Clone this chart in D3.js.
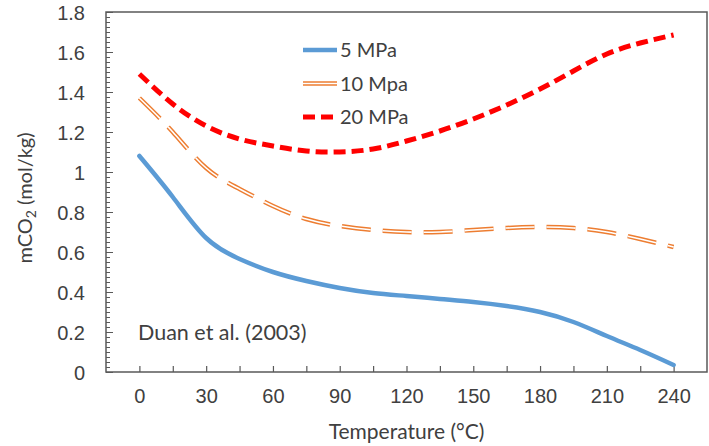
<!DOCTYPE html>
<html>
<head>
<meta charset="utf-8">
<script src="https://cdn.jsdelivr.net/npm/d3@7"></script>
<style>
  body { margin: 0; background: #fff; }
  svg { font-family: Lato, "Noto Sans", sans-serif; }
</style>
</head>
<body>
<svg id="chart" width="709" height="446"></svg>
<script>
// Temperature (°C) of each point
const temps = [0, 15, 30, 45, 60, 75, 90, 105, 120, 135, 150, 165, 180, 195, 210, 225, 240];

// mCO2 (mol/kg)
const mpa5 = [1.08, 0.875, 0.67, 0.565, 0.50, 0.455, 0.42, 0.395, 0.38, 0.365, 0.35, 0.33, 0.30, 0.25, 0.18, 0.11, 0.035];
const mpa10 = [1.37, 1.20, 1.02, 0.915, 0.83, 0.765, 0.73, 0.71, 0.70, 0.70, 0.71, 0.72, 0.725, 0.72, 0.70, 0.665, 0.625];
const mpa20 = [1.49, 1.34, 1.23, 1.165, 1.13, 1.105, 1.10, 1.115, 1.155, 1.205, 1.265, 1.335, 1.415, 1.505, 1.59, 1.645, 1.685];

const seriesNames = ["5 MPa", "10 Mpa", "20 MPa"];
const xTickValues = [0, 15, 30, 45, 60, 75, 90, 105, 120, 135, 150, 165, 180, 195, 210, 225, 240];
const yTickValues = [0, 0.2, 0.4, 0.6, 0.8, 1, 1.2, 1.4, 1.6, 1.8];

const textColor = "#404040";
const frameColor = "#595959";

const margin = { top: 12, right: 2, bottom: 74, left: 106 };
const width = 709;
const height = 446;

const svg = d3.select("#chart");

const scaleX = d3.scaleLinear()
  .domain([-15, 255])
  .range([margin.left, width - margin.right]);

const scaleY = d3.scaleLinear()
  .domain([0, 1.8])
  .range([height - margin.bottom, margin.top]);

const plotBottom = scaleY(0);

// minor y ticks every 0.025
const yMinor = d3.range(0, 73).map(i => i * 0.025);

svg.append("g")
  .attr("transform", `translate(${margin.left},0)`)
  .call(d3.axisLeft(scaleY).tickValues(yMinor).tickSize(-4).tickFormat(""))
  .call(g => g.select(".domain").remove())
  .call(g => g.selectAll(".tick line").attr("stroke", frameColor).attr("stroke-width", 1));

svg.append("g")
  .attr("transform", `translate(${margin.left},0)`)
  .call(d3.axisLeft(scaleY).tickValues(yTickValues).tickSize(-7).tickPadding(21).tickFormat(d => d3.format("")(+d.toFixed(1))))
  .call(g => g.select(".domain").remove())
  .call(g => g.selectAll(".tick line").attr("stroke", frameColor).attr("stroke-width", 1))
  .call(g => g.selectAll(".tick text")
    .attr("fill", textColor)
    .style("font-size", "20px")
    .attr("dy", "0.36em"));

svg.append("g")
  .attr("transform", `translate(0,${plotBottom})`)
  .call(d3.axisBottom(scaleX).tickValues(xTickValues).tickSize(-6).tickPadding(31)
    .tickFormat(d => d % 30 === 0 ? d : ""))
  .call(g => g.select(".domain").remove())
  .call(g => g.selectAll(".tick line").attr("stroke", frameColor).attr("stroke-width", 1.2))
  .call(g => g.selectAll(".tick text")
    .attr("fill", textColor)
    .style("font-size", "20px")
    .attr("dy", "0"));

// plot frame
svg.append("rect")
  .attr("x", margin.left)
  .attr("y", margin.top)
  .attr("width", width - margin.right - margin.left)
  .attr("height", plotBottom - margin.top)
  .attr("fill", "none")
  .attr("stroke", frameColor)
  .attr("stroke-width", 1.5);

const line = d3.line()
  .x((d, i) => scaleX(temps[i]))
  .y(d => scaleY(d))
  .curve(d3.curveNatural);

// 5 MPa
svg.append("path")
  .attr("d", line(mpa5))
  .attr("fill", "none")
  .attr("stroke", "#5B9BD5")
  .attr("stroke-width", 4.5)
  .attr("stroke-linecap", "round");

// 10 Mpa, double dashed line
const dash10 = "29,12";
svg.append("path")
  .attr("d", line(mpa10))
  .attr("fill", "none")
  .attr("stroke", "#ED7D31")
  .attr("stroke-width", 4.5)
  .attr("stroke-dasharray", dash10);
svg.append("path")
  .attr("d", line(mpa10))
  .attr("fill", "none")
  .attr("stroke", "#fff")
  .attr("stroke-width", 1.6)
  .attr("stroke-dasharray", dash10);

// 20 MPa
svg.append("path")
  .attr("d", line(mpa20))
  .attr("fill", "none")
  .attr("stroke", "#FF0000")
  .attr("stroke-width", 5)
  .attr("stroke-dasharray", "12,6");

// legend
const legend = svg.append("g").attr("transform", "translate(303,50)");
const legendStep = 33.5;
seriesNames.forEach((name, i) => {
  const gy = i * legendStep;
  if (i === 0) {
    legend.append("line").attr("x1", 0).attr("x2", 34).attr("y1", gy).attr("y2", gy)
      .attr("stroke", "#5B9BD5").attr("stroke-width", 4.5);
  } else if (i === 1) {
    legend.append("line").attr("x1", 0).attr("x2", 34).attr("y1", gy).attr("y2", gy)
      .attr("stroke", "#ED7D31").attr("stroke-width", 4.5);
    legend.append("line").attr("x1", 0).attr("x2", 34).attr("y1", gy).attr("y2", gy)
      .attr("stroke", "#fff").attr("stroke-width", 1.6);
  } else {
    legend.append("line").attr("x1", 0).attr("x2", 34).attr("y1", gy).attr("y2", gy)
      .attr("stroke", "#FF0000").attr("stroke-width", 5).attr("stroke-dasharray", "12,6");
  }
  legend.append("text")
    .attr("x", 37)
    .attr("y", gy)
    .attr("dy", "0.36em")
    .attr("fill", textColor)
    .style("font-size", "20px")
    .text(name);
});

// annotation
svg.append("text")
  .attr("x", 138)
  .attr("y", 332)
  .attr("dy", "0.36em")
  .attr("fill", textColor)
  .style("font-size", "21.5px")
  .text("Duan et al. (2003)");

// axis titles
svg.append("text")
  .attr("x", (margin.left + width - margin.right) / 2)
  .attr("y", 439)
  .attr("text-anchor", "middle")
  .attr("fill", textColor)
  .style("font-size", "21px")
  .text("Temperature (°C)");

const yTitle = svg.append("text")
  .attr("transform", `translate(32,${(margin.top + plotBottom) / 2 + 6}) rotate(-90)`)
  .attr("text-anchor", "middle")
  .attr("fill", textColor)
  .style("font-size", "20px");
yTitle.append("tspan").text("mCO");
yTitle.append("tspan").attr("dy", 4).style("font-size", "14px").text("2");
yTitle.append("tspan").attr("dy", -4).text(" (mol/kg)");
</script>
</body>
</html>
